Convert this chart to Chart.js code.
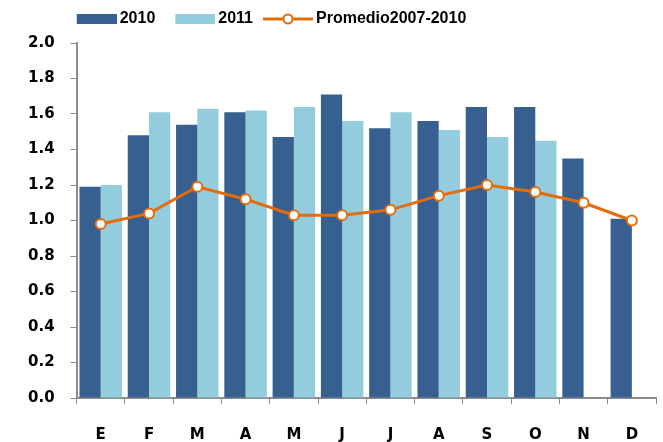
<!DOCTYPE html>
<html>
<head>
<meta charset="utf-8">
<script src="https://cdn.jsdelivr.net/npm/chart.js@4"></script>
<style>
  html, body { margin: 0; padding: 0; background: #fff; }
  #wrap { width: 663px; height: 442px; }
</style>
</head>
<body>
<div id="wrap"><canvas id="myChart"></canvas></div>
<script>
const months = ["E", "F", "M", "A", "M", "J", "J", "A", "S", "O", "N", "D"];
const values2010 = [1.19, 1.48, 1.54, 1.61, 1.47, 1.71, 1.52, 1.56, 1.64, 1.64, 1.35, 1.01];
const values2011 = [1.20, 1.61, 1.63, 1.62, 1.64, 1.56, 1.61, 1.51, 1.47, 1.45, null, null];
const promedio = [0.98, 1.04, 1.19, 1.12, 1.03, 1.03, 1.06, 1.14, 1.20, 1.16, 1.10, 1.00];

const darkBlue = '#375f8f';
const lightBlue = '#93cddd';
const orange = '#e46c0a';
const axisFont = "'DejaVu Sans', sans-serif";

// legend markers as small canvases (50 wide, drawn against a 40px slot)
function boxIcon(color) {
    const c = document.createElement('canvas');
    c.width = 50; c.height = 10;
    const g = c.getContext('2d');
    g.fillStyle = color;
    g.fillRect(10, 0, 40, 10);
    return c;
}
function lineIcon() {
    const c = document.createElement('canvas');
    c.width = 50; c.height = 14;
    const g = c.getContext('2d');
    g.strokeStyle = orange;
    g.lineWidth = 3;
    g.beginPath(); g.moveTo(0, 7); g.lineTo(50, 7); g.stroke();
    g.fillStyle = '#fff';
    g.lineWidth = 2;
    g.beginPath(); g.arc(25, 7, 4.5, 0, Math.PI * 2); g.fill(); g.stroke();
    return c;
}
const icons = [lineIcon(), boxIcon(darkBlue), boxIcon(lightBlue)];

// legend sits left of centre and a bit higher in the original
const legendShift = {
    id: 'legendShift',
    afterLayout(chart) {
        const lg = chart.legend;
        if (lg) {
            lg.left = 0;
            lg.right = 538;
            lg.top -= 6;
            lg.bottom -= 6;
        }
    }
};

const ctx = document.getElementById('myChart').getContext('2d');

const data = {
    labels: months,
    datasets: [
    {
        type: 'line',
        label: 'Promedio2007-2010',
        data: promedio,
        borderColor: orange,
        borderWidth: 3,
        pointRadius: 5,
        pointBorderWidth: 2,
        pointBackgroundColor: '#fff',
        pointBorderColor: orange,
        tension: 0,
        order: 0,
    },
    {
        label: '2010',
        data: values2010,
        backgroundColor: darkBlue,
        order: 1,
    },
    {
        label: '2011',
        data: values2011,
        backgroundColor: lightBlue,
        order: 1,
    },
    ],
};

const config = {
    type: 'bar',
    data: data,
    options: {
        responsive: true,
        maintainAspectRatio: false,
        animation: false,
        layout: { padding: { left: 12, right: 1, top: 2, bottom: -24 } },
        datasets: {
            bar: { categoryPercentage: 0.88, barPercentage: 1.0 },
        },
        plugins: {
            tooltip: { enabled: false },
            legend: {
                labels: {
                    usePointStyle: true,
                    pointStyleWidth: 40,
                    color: '#000',
                    font: { family: "'Liberation Sans', sans-serif", size: 16, weight: 'bold' },
                    padding: 15,
                    sort: (a, b) => a.datasetIndex === 0 ? 1 : (b.datasetIndex === 0 ? -1 : a.datasetIndex - b.datasetIndex),
                    generateLabels(chart) {
                        return chart.data.datasets.map((ds, i) => ({
                            text: ds.label,
                            datasetIndex: i,
                            pointStyle: icons[i],
                            fillStyle: 'transparent',
                            strokeStyle: 'transparent',
                            lineWidth: 0,
                            hidden: false,
                            fontColor: '#000',
                        }));
                    },
                },
            },
        },
        scales: {
            x: {
                grid: { drawOnChartArea: false, drawTicks: true, tickLength: 6, color: '#8c8c8c' },
                border: { color: '#8c8c8c', width: 2 },
                ticks: { font: { family: axisFont, size: 15, weight: 'bold' }, padding: 22, color: '#000' },
            },
            y: {
                min: 0,
                max: 2,
                grid: { drawOnChartArea: false, drawTicks: true, tickLength: 6, color: '#8c8c8c' },
                border: { color: '#8c8c8c', width: 2 },
                ticks: {
                    stepSize: 0.2,
                    padding: 16,
                    font: { family: axisFont, size: 15, weight: 'bold' },
                    color: '#000',
                    callback: (v) => v.toFixed(1),
                },
            },
        },
    },
    plugins: [legendShift],
};

const myChart = new Chart(ctx, config);
</script>
</body>
</html>
